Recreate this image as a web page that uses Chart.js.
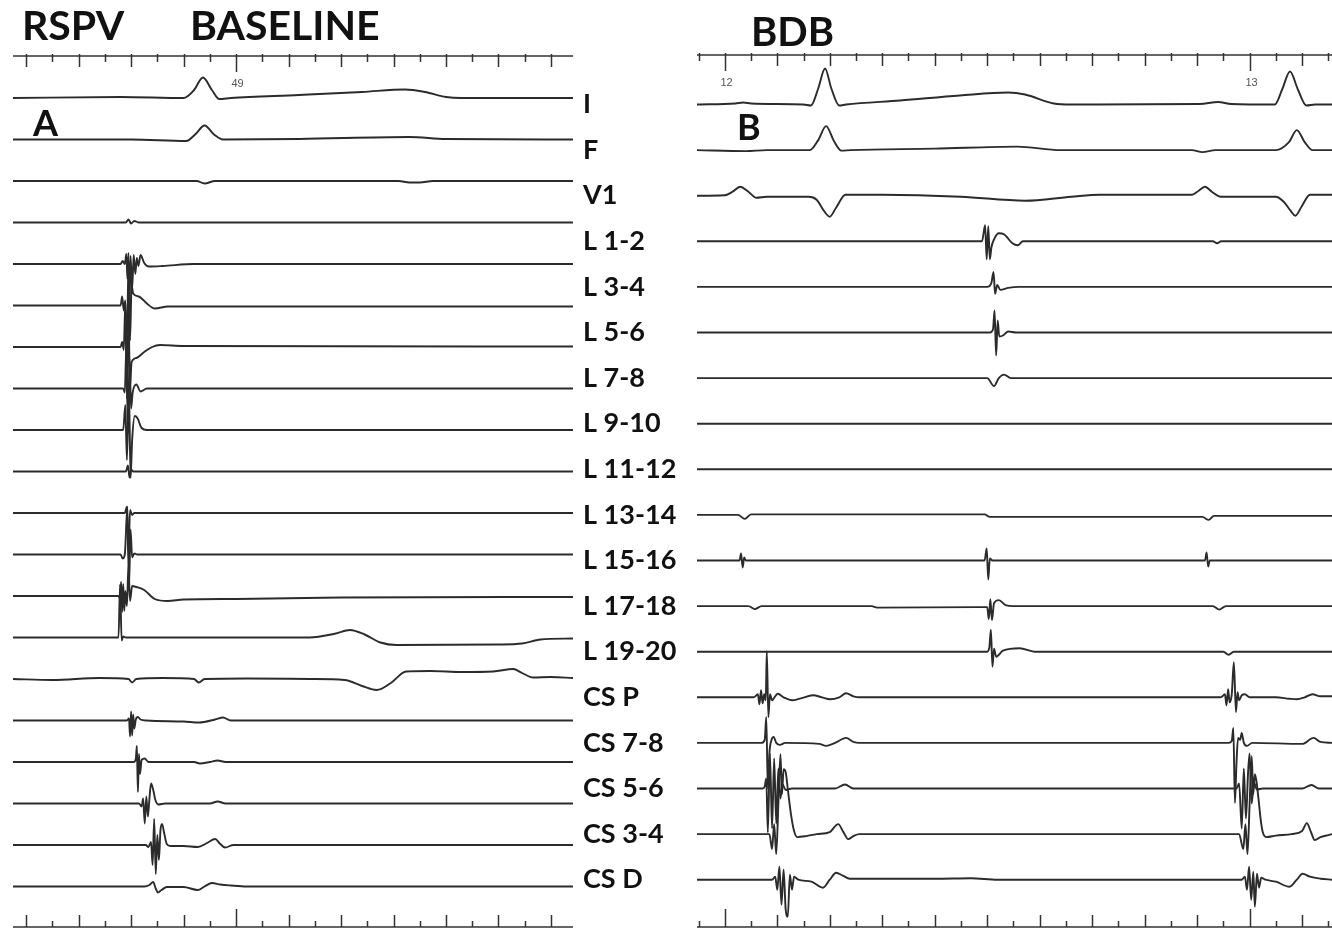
<!DOCTYPE html>
<html>
<head>
<meta charset="utf-8">
<title>RSPV baseline / BDB</title>
<script src="https://cdn.jsdelivr.net/npm/chart.js"></script>
<style>
  html, body { margin: 0; padding: 0; background: #fff; }
  body { width: 1332px; height: 928px; position: relative; overflow: hidden; }
  canvas { position: absolute; top: 0; }
  #left { left: 13px; }
  #right { left: 583px; }
</style>
</head>
<body>
<canvas id="left" width="560" height="928"></canvas>
<canvas id="right" width="749" height="928"></canvas>
<script>
// channel names, top to bottom
const channelNames = ["I", "F", "V1", "L 1-2", "L 3-4", "L 5-6", "L 7-8", "L 9-10", "L 11-12",
  "L 13-14", "L 15-16", "L 17-18", "L 19-20", "CS P", "CS 7-8", "CS 5-6", "CS 3-4", "CS D"];

// time origin of each strip (ms); trace times below are ms from that origin
const leftOriginMs = 48500;
const rightOriginMs = 11900;
const leftWindow = [75, 1142];
const rightWindow = [47, 1257];

// left strip (RSPV baseline): [ms, mV-ish] per trace, top to bottom
const leftTraces = [
  [[75,0],[280,0.1],[400,0],[420,0.8],[437,2.05],[454,0.8],[468,-0.1],[490,0],[620,0.3],[740,0.6],[822,0.85],[860,0.6],[900,0.1],[930,0],[1142,0]],
  [[75,0],[300,0],[405,-0.15],[422,0.5],[440,1.4],[458,0.5],[475,0],[620,0.05],[830,0.25],[900,0.05],[1142,0]],
  [[75,0],[425,0],[440,-0.25],[460,0],[810,0],[830,-0.15],[850,-0.15],[875,0],[1142,0]],
  [[75,0],[290,0],[295,0.3],[300,-0.1],[306,0.15],[315,0],[1142,0]],
  [[75,0],[280,0],[284,0.3],[288,0],[291,1.0],[293,-1.5],[295,1.1],[297,-4.2],[299,0.8],[302,-2.5],[305,0.9],[308,-1.0],[311,0.6],[314,-0.2],[318,0.9],[325,0.1],[334,-0.25],[360,-0.2],[420,0],[1142,0]],
  [[75,0],[280,0],[283,0.9],[286,-0.5],[289,0.5],[292,-5.0],[295,4.5],[298,-3.5],[301,2.0],[304,1.2],[315,0.9],[330,0.2],[345,-0.3],[370,-0.1],[1142,-0.1]],
  [[75,0],[280,0],[283,0.5],[286,-0.3],[289,4.3],[292,-5.2],[295,3.5],[298,-4.0],[301,-1.5],[310,-1.1],[325,-0.5],[340,0],[355,0.2],[400,0.1],[1142,0.05]],
  [[75,0],[285,0],[288,-0.4],[291,4.2],[294,-4.5],[297,3.0],[300,-2.0],[303,-0.4],[310,0.4],[318,-0.3],[330,0],[1142,0]],
  [[75,0],[285,0],[289,2.5],[292,-3.0],[296,4.0],[299,-4.8],[302,-1.0],[307,1.4],[312,1.2],[320,0.2],[330,0],[1142,0]],
  [[75,0],[290,0],[294,0.6],[297,-0.6],[300,0.2],[304,0],[1142,0]],
  [[75,0],[288,0],[292,0.6],[295,-4.5],[298,0.3],[302,-0.2],[306,0],[1142,0]],
  [[75,0],[280,0],[284,-0.4],[288,0],[293,4.8],[296,-3.3],[299,2.5],[302,-0.3],[306,0.1],[312,0],[1142,0]],
  [[75,0],[275,0],[279,-0.2],[281,1.4],[283,-1.6],[285,1.2],[287,-1.5],[289,0.5],[292,-1.0],[295,3.0],[298,-0.5],[302,1.0],[310,0.9],[325,0.6],[345,-0.3],[370,-0.5],[400,-0.35],[500,-0.3],[700,-0.15],[1142,-0.1]],
  [[75,0],[276,0],[279,5.3],[282,-0.3],[285,0.1],[290,0],[640,0],[690,0.4],[717,0.75],[745,0.3],[775,-0.5],[805,-0.75],[1000,-0.7],[1045,-0.6],[1080,-0.2],[1142,-0.1]],
  [[75,0],[150,-0.1],[240,0.1],[295,0],[302,-0.35],[310,0],[360,0.1],[420,0],[429,-0.35],[440,0],[520,0.05],[640,0],[707,-0.1],[740,-0.7],[768,-1.1],[795,-0.4],[824,0.75],[870,0.8],[930,0.7],[990,0.75],[1028,1.0],[1045,0.6],[1066,0.15],[1100,0.2],[1142,0.1]],
  [[75,0],[292,0],[296,0.2],[298,-1.6],[300,0.9],[302,-1.5],[304,0.6],[306,-0.8],[309,0.1],[313,0.35],[318,0.1],[330,0],[400,-0.1],[430,-0.2],[460,0.1],[475,0.3],[490,0],[1142,0]],
  [[75,0],[305,0],[309,0.3],[311,1.6],[313,-3.0],[315,0.8],[317,-1.2],[320,0.2],[326,0.35],[333,0],[420,0],[431,-0.15],[450,0],[465,0.15],[480,0],[1142,0]],
  [[75,0],[315,0],[320,-0.3],[323,0.5],[326,-2.0],[329,0.7],[332,-1.3],[335,0.5],[338,2.0],[342,1.4],[346,0.4],[352,-0.1],[365,0],[450,0],[465,0.2],[480,0],[1142,0]],
  [[75,0],[328,0],[333,-0.2],[338,0.3],[341,-2.0],[344,2.6],[347,-2.9],[350,1.0],[353,-1.5],[356,1.5],[359,2.1],[363,1.2],[368,0.1],[375,-0.1],[400,-0.1],[427,-0.2],[445,0.2],[460,0.6],[470,0.1],[479,-0.25],[495,0],[1142,0]],
  [[75,0],[325,0],[335,0.15],[342,0.45],[347,-0.2],[351,-0.6],[358,-0.35],[368,-0.05],[400,-0.05],[427,-0.35],[440,0],[454,0.35],[470,0.2],[490,0.1],[520,0],[1142,0]]
];

// right strip (BDB): one trace per channel name
const rightTraces = [
  [[47,0],[120,0.1],[135,0.2],[150,0.1],[250,0],[264,-0.1],[278,1.6],[291,3.6],[303,1.6],[318,-0.1],[331,0],[434,0.4],[548,0.9],[640,1.2],[672,1.0],[727,0.1],[760,0],[1005,0.05],[1040,0.25],[1065,0.05],[1148,0],[1162,1.5],[1177,3.3],[1192,1.5],[1208,-0.1],[1225,0],[1257,0]],
  [[47,0],[140,-0.1],[180,0],[262,0],[278,1.0],[293,2.4],[308,0.9],[322,-0.05],[340,0],[500,0.15],[657,0.35],[740,0],[990,0],[1010,-0.2],[1035,0],[1150,0],[1175,0.8],[1190,2.0],[1205,0.8],[1220,0],[1257,0]],
  [[47,0],[100,0.05],[115,0.4],[129,0.9],[145,0.4],[160,-0.2],[180,-0.1],[260,-0.1],[275,-0.4],[290,-1.6],[300,-2.1],[312,-1.2],[330,0.1],[400,0.1],[550,-0.1],[672,-0.5],[760,-0.1],[815,0.1],[990,0.1],[1003,0.5],[1015,0.9],[1028,0.4],[1045,-0.1],[1150,-0.1],[1165,-0.6],[1178,-1.5],[1187,-2.0],[1200,-1.0],[1215,0.1],[1257,0.1]],
  [[47,0],[590,0],[596,1.6],[599,-1.8],[602,1.5],[605,-1.8],[608,-0.6],[614,0.3],[622,0.8],[632,0.7],[648,-0.2],[658,-0.4],[668,0],[1030,0],[1038,-0.2],[1046,0],[1257,0]],
  [[47,0],[600,0],[608,0.4],[612,1.5],[615,-0.7],[619,0.2],[625,-0.3],[640,-0.1],[660,0],[1257,0]],
  [[47,0],[605,0],[611,0.3],[614,2.2],[617,-2.3],[620,1.2],[623,-0.4],[630,-0.3],[640,0.1],[655,0],[1257,0]],
  [[47,0],[600,0],[613,-0.8],[622,0],[632,0.35],[645,0],[1257,0]],
  [[47,0],[1257,0]],
  [[47,0],[1257,0]],
  [[47,0],[125,0],[138,-0.4],[150,0.05],[595,0.05],[605,-0.2],[1010,-0.2],[1022,-0.5],[1032,-0.1],[1257,-0.1]],
  [[47,0],[128,0],[131,0.7],[134,-0.7],[137,0.3],[140,0],[595,0],[599,1.2],[602,-1.9],[605,0.2],[610,0],[1015,0],[1018,0.8],[1021,-0.6],[1024,0],[1257,0]],
  [[47,0],[145,0],[157,-0.3],[170,0],[380,0],[390,-0.15],[580,-0.1],[600,-0.1],[603,-1.3],[606,0.7],[609,-1.4],[613,0.3],[622,0.6],[635,0.1],[650,0],[1030,0],[1042,-0.35],[1055,0],[1257,0]],
  [[47,0],[600,0],[604,0.4],[607,2.2],[610,-1.5],[613,0.3],[617,-0.5],[630,0.1],[662,0.35],[690,0],[1050,0],[1060,-0.3],[1070,0],[1257,0]],
  [[47,0],[155,0],[163,0.3],[166,-0.7],[169,0.7],[172,-0.6],[175,0.3],[178,-0.3],[180,4.6],[183,-2.0],[186,0.3],[190,-0.3],[196,0.1],[201,0.35],[212,0],[228,-0.3],[245,-0.1],[268,0.2],[285,0],[300,-0.2],[318,0],[331,0.4],[345,0.1],[356,0],[1045,0],[1053,0.3],[1056,-0.8],[1059,0.8],[1062,-0.5],[1066,0.3],[1070,3.5],[1074,-1.5],[1077,0.5],[1080,-0.3],[1085,0.2],[1091,0.3],[1100,0],[1150,0],[1176,-0.15],[1190,-0.2],[1205,0],[1220,0.3],[1235,0.1],[1257,0.1]],
  [[47,0],[170,0],[176,0.3],[179,2.6],[182,-4.6],[185,-1.0],[189,0.3],[193,0.6],[198,0],[205,-0.2],[215,0],[280,-0.1],[293,-0.3],[310,0],[331,0.5],[345,0.1],[356,0],[1060,0],[1066,0.2],[1069,1.5],[1072,-6.0],[1075,-2.0],[1078,0.5],[1082,0.3],[1085,1.0],[1089,0],[1095,-0.3],[1105,0],[1200,-0.1],[1222,0.5],[1235,0.1],[1257,0]],
  [[47,0],[172,0],[176,0.2],[179,1.0],[182,-4.4],[186,3.5],[190,-4.0],[194,3.0],[198,-3.5],[202,2.0],[206,-1.0],[210,0.4],[216,-0.15],[228,0],[310,0],[329,0.4],[345,0],[1075,0],[1080,0.5],[1085,-4.0],[1089,2.0],[1093,-3.0],[1097,1.5],[1100,3.5],[1104,-1.5],[1108,0.6],[1114,-0.1],[1125,0],[1200,0],[1218,0.35],[1232,0],[1257,0]],
  [[47,0],[185,0],[190,-1.5],[194,1.0],[198,-2.0],[202,3.0],[206,8.0],[209,4.0],[212,6.5],[216,6.2],[220,4.5],[226,2.0],[232,0.3],[238,-0.3],[255,-0.2],[275,0],[300,0.2],[316,1.0],[326,0.2],[335,-0.5],[345,-0.2],[356,0],[1080,0],[1088,-1.5],[1092,1.0],[1096,-2.0],[1100,3.0],[1104,7.8],[1107,4.0],[1110,6.0],[1113,5.3],[1117,3.5],[1121,1.5],[1125,0.2],[1132,-0.3],[1150,-0.15],[1180,0],[1200,0.3],[1209,1.1],[1217,0.2],[1224,-0.6],[1235,-0.3],[1250,-0.1],[1257,0]],
  [[47,0],[190,0],[196,0.3],[200,-1.0],[204,1.3],[208,-2.5],[212,1.0],[216,-3.0],[220,-3.7],[224,0.5],[228,-1.0],[232,0.3],[240,0],[265,-0.2],[287,-0.8],[300,0],[312,0.7],[325,0.4],[338,0.1],[500,0.1],[569,0.15],[620,0],[1085,0],[1091,0.3],[1095,-1.0],[1099,1.3],[1103,-2.0],[1107,0.8],[1110,-2.7],[1114,0.6],[1118,-0.8],[1122,0.2],[1130,0],[1150,-0.2],[1176,-0.7],[1190,0],[1201,0.6],[1215,0.3],[1235,0.1],[1257,0]]
];

// --- layout -----------------------------------------------------------
const FONT = "Lato, 'Open Sans', sans-serif";
const INK = "#2b2b2b";

function stackDatasets(traces, gap) {
  return traces.map((pts, i) => ({
    data: pts.map(([t, v]) => ({ x: t, y: v - i * gap })),
    borderColor: INK,
    borderWidth: 1.9,
    pointRadius: 0,
    cubicInterpolationMode: "monotone",
    fill: false
  }));
}

// timing ruler along the top and bottom edges, 50 ms ticks
function rulerPlugin(originMs, topY, bottomY) {
  return {
    id: "ruler",
    afterDraw(chart) {
      const { ctx, chartArea } = chart;
      const x = chart.scales.x;
      ctx.save();
      ctx.strokeStyle = "#333";
      ctx.lineWidth = 1.5;
      ctx.beginPath();
      ctx.moveTo(chartArea.left, topY);
      ctx.lineTo(chartArea.right, topY);
      ctx.moveTo(chartArea.left, bottomY);
      ctx.lineTo(chartArea.right, bottomY);
      ctx.stroke();
      ctx.fillStyle = "#555";
      ctx.font = "11px 'Liberation Sans', Arial, sans-serif";
      ctx.textAlign = "center";
      for (let t = Math.ceil(x.min / 50) * 50; t <= x.max; t += 50) {
        const abs = originMs + t;
        const px = Math.round(x.getPixelForValue(t)) + 0.5;
        const sec = abs % 1000 === 0;
        const major = abs % 100 === 0;
        const up = sec ? 16 : major ? 11 : 6;
        const down = sec ? 18 : major ? 12 : 6;
        ctx.beginPath();
        ctx.moveTo(px, topY - 2);
        ctx.lineTo(px, topY + up);
        ctx.moveTo(px, bottomY);
        ctx.lineTo(px, bottomY - down);
        ctx.stroke();
        if (sec) ctx.fillText(String(abs / 1000), px + 1, topY + 31);
      }
      ctx.restore();
    }
  };
}

// large panel captions
function captionPlugin(items) {
  return {
    id: "captions",
    afterDraw(chart) {
      const ctx = chart.ctx;
      ctx.save();
      ctx.fillStyle = "#111";
      ctx.textBaseline = "alphabetic";
      items.forEach(it => {
        ctx.font = `bold ${it.size}px ${FONT}`;
        ctx.fillText(it.text, it.x, it.y);
      });
      ctx.restore();
    }
  };
}

const LEFT_GAP = 4.15;
const RIGHT_GAP = 4.56;

new Chart(document.getElementById("left"), {
  type: "line",
  data: { datasets: stackDatasets(leftTraces, LEFT_GAP) },
  options: {
    responsive: false,
    animation: false,
    events: [],
    layout: { padding: 0 },
    plugins: { legend: { display: false }, tooltip: { enabled: false } },
    scales: {
      x: { type: "linear", min: leftWindow[0], max: leftWindow[1], display: false },
      y: { type: "linear", min: -83.0, max: 9.8, display: false }
    }
  },
  plugins: [
    rulerPlugin(leftOriginMs, 56, 927),
    captionPlugin([
      { text: "RSPV", x: 9, y: 40, size: 41 },
      { text: "BASELINE", x: 177, y: 40, size: 41 },
      { text: "A", x: 20, y: 136, size: 36 }
    ])
  ]
});

new Chart(document.getElementById("right"), {
  type: "line",
  data: { datasets: stackDatasets(rightTraces, RIGHT_GAP) },
  options: {
    responsive: false,
    animation: false,
    events: [],
    layout: { padding: 0 },
    plugins: { legend: { display: false }, tooltip: { enabled: false } },
    scales: {
      x: { type: "linear", min: rightWindow[0], max: rightWindow[1], display: false },
      y: {
        type: "linear",
        position: "left",
        min: -82.35,
        max: 10.45,
        grid: { display: false },
        border: { display: false },
        afterBuildTicks(axis) {
          axis.ticks = channelNames.map((_, i) => ({ value: -i * RIGHT_GAP }));
        },
        afterFit(axis) {
          axis.width = 114;
          axis.paddingTop = 0;
          axis.paddingBottom = 0;
        },
        ticks: {
          autoSkip: false,
          crossAlign: "far",
          color: "#111",
          font: { family: FONT, size: 27, weight: "bold" },
          callback: (value, index) => channelNames[index]
        }
      }
    }
  },
  plugins: [
    rulerPlugin(rightOriginMs, 55, 927),
    captionPlugin([
      { text: "BDB", x: 168, y: 46, size: 40 },
      { text: "B", x: 154, y: 140, size: 36 }
    ])
  ]
});
</script>
</body>
</html>
